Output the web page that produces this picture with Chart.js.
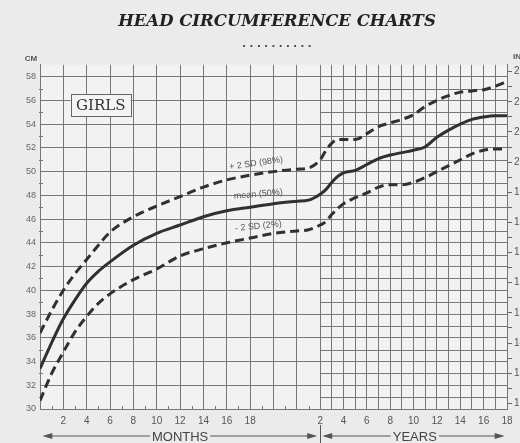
<!DOCTYPE html>
<html>
<head>
<meta charset="utf-8">
<script src="https://cdn.jsdelivr.net/npm/chart.js@4.4.0/dist/chart.umd.min.js"></script>
<style>
  html, body { margin: 0; padding: 0; overflow: hidden; background: #ebebeb; }
  #wrap { width: 540px; height: 443px; }
</style>
</head>
<body>
<div id="wrap"><canvas id="chart" width="540" height="443"></canvas></div>
<script>
// ages: months up to 23, then years 2..18 (one year takes the width of one month)
const monthAges = [0, 1, 2, 3, 4, 5, 6, 8, 10, 12, 14, 16, 18, 20, 22, 23];
const yearAges = [2, 2.5, 3, 3.5, 4, 5, 6, 7, 8, 9, 10, 11, 12, 13, 14, 15, 16, 17, 18];

// head circumference in cm
const upperMonths = [36.4, 38.3, 40.0, 41.4, 42.6, 43.8, 44.9, 46.2, 47.1, 47.9, 48.7, 49.3, 49.7, 50.0, 50.2, 50.3];
const upperYears = [51.0, 51.8, 52.4, 52.7, 52.7, 52.7, 53.2, 53.8, 54.1, 54.4, 54.8, 55.5, 56.0, 56.4, 56.7, 56.8, 56.9, 57.2, 57.6];
const meanMonths = [33.4, 35.6, 37.6, 39.2, 40.6, 41.6, 42.4, 43.8, 44.8, 45.5, 46.2, 46.7, 47.0, 47.3, 47.5, 47.6];
const meanYears = [48.1, 48.5, 49.1, 49.6, 49.9, 50.1, 50.6, 51.1, 51.4, 51.6, 51.8, 52.1, 52.9, 53.5, 54.0, 54.4, 54.6, 54.7, 54.7];
const lowerMonths = [30.7, 33.0, 34.8, 36.5, 37.8, 38.9, 39.7, 40.9, 41.8, 42.9, 43.5, 44.0, 44.4, 44.8, 45.0, 45.1];
const lowerYears = [45.5, 45.8, 46.4, 46.9, 47.3, 47.8, 48.2, 48.7, 48.9, 48.9, 49.1, 49.5, 50.0, 50.5, 51.0, 51.5, 51.8, 51.9, 51.9];

const seriesLabels = ['+ 2 SD (98%)', 'mean (50%)', '- 2 SD (2%)'];
const monthTickLabels = [2, 4, 6, 8, 10, 12, 14, 16, 18];
const yearTickLabels = [2, 4, 6, 8, 10, 12, 14, 16, 18];

const CM_MIN = 30, CM_MAX = 59;
const gridColor = '#777777';
const lineColor = '#303030';
const none = 'rgba(0,0,0,0)';

// axis unit: months 0..24, then 24 + (years - 2)
const yearUnit = yr => 22 + yr;
const toPoints = (mVals, yVals) =>
  monthAges.map((m, i) => ({ x: m, y: mVals[i] }))
    .concat(yearAges.map((yr, i) => ({ x: yearUnit(yr), y: yVals[i] })));

function range(a, b, step) {
  const out = [];
  for (let v = a; v <= b + 1e-9; v += step) out.push({ value: Math.round(v * 100) / 100 });
  return out;
}

const decor = {
  id: 'decor',
  beforeDraw(chart) {
    const { ctx, chartArea: a } = chart;
    ctx.save();
    ctx.fillStyle = '#f2f2f2';
    ctx.fillRect(a.left, a.top, a.right - a.left, a.bottom - a.top);
    ctx.restore();
  },
  beforeDatasetsDraw(chart) {
    const { ctx, chartArea: a, scales: { x, y } } = chart;
    const x0 = x.getPixelForValue(24);
    ctx.save();
    ctx.strokeStyle = gridColor;
    ctx.lineWidth = 1;
    ctx.beginPath();
    // finer 1 cm grid in the years part, short marks on the left edge
    for (let cm = CM_MIN + 1; cm < CM_MAX; cm += 2) {
      const py = Math.round(y.getPixelForValue(cm)) + 0.5;
      ctx.moveTo(x0, py);
      ctx.lineTo(a.right, py);
      ctx.moveTo(a.left - 1, py);
      ctx.lineTo(a.left + 3, py);
    }
    // short marks at odd months along the bottom
    for (let m = 1; m < 24; m += 2) {
      const px = Math.round(x.getPixelForValue(m)) + 0.5;
      ctx.moveTo(px, a.bottom);
      ctx.lineTo(px, a.bottom - 3);
    }
    ctx.stroke();
    ctx.restore();
  },
  afterDraw(chart) {
    const { ctx, chartArea: a, scales: { x, y } } = chart;
    ctx.save();

    // unit labels
    ctx.fillStyle = '#555';
    ctx.font = 'bold 8px "Liberation Sans"';
    ctx.textAlign = 'center';
    ctx.textBaseline = 'middle';
    ctx.fillText('CM', 31, a.top - 6);
    ctx.textAlign = 'left';
    ctx.fillText('IN', a.right + 6, a.top - 8);

    // GIRLS box
    const gx = x.getPixelForValue(5.2), gy = y.getPixelForValue(55.6);
    ctx.fillStyle = '#f4f4f4';
    ctx.fillRect(gx - 30, gy - 11, 60, 22);
    ctx.strokeStyle = '#666';
    ctx.lineWidth = 1;
    ctx.strokeRect(Math.round(gx - 30) + 0.5, Math.round(gy - 11) + 0.5, 60, 22);
    ctx.fillStyle = '#333';
    ctx.font = '15px "DejaVu Serif"';
    ctx.textAlign = 'center';
    ctx.fillText('GIRLS', gx, gy + 1);

    // curve labels
    const tags = [[18.5, 50.7, -8], [18.7, 48.1, -5], [18.7, 45.4, -6]];
    ctx.font = '9px "Liberation Sans"';
    ctx.fillStyle = '#555';
    tags.forEach((t, i) => {
      ctx.save();
      ctx.translate(x.getPixelForValue(t[0]), y.getPixelForValue(t[1]));
      ctx.rotate(t[2] * Math.PI / 180);
      ctx.fillText(seriesLabels[i], 0, 0);
      ctx.restore();
    });

    // MONTHS / YEARS arrows
    const ay = 436;
    const arrow = (x1, x2, text, tx) => {
      ctx.font = '13px "Liberation Sans"';
      const w = ctx.measureText(text).width;
      ctx.strokeStyle = '#555';
      ctx.fillStyle = '#555';
      ctx.lineWidth = 1;
      ctx.beginPath();
      ctx.moveTo(x1 + 6, ay); ctx.lineTo(tx - w / 2 - 2, ay);
      ctx.moveTo(tx + w / 2 + 2, ay); ctx.lineTo(x2 - 6, ay);
      ctx.stroke();
      ctx.beginPath();
      ctx.moveTo(x1, ay); ctx.lineTo(x1 + 10, ay - 3); ctx.lineTo(x1 + 10, ay + 3); ctx.closePath();
      ctx.moveTo(x2, ay); ctx.lineTo(x2 - 10, ay - 3); ctx.lineTo(x2 - 10, ay + 3); ctx.closePath();
      ctx.fill();
      ctx.fillStyle = '#444';
      ctx.textAlign = 'center';
      ctx.fillText(text, tx, ay + 1);
    };
    const xs = x.getPixelForValue(24);
    arrow(x.getPixelForValue(0.2), xs - 3, 'MONTHS', x.getPixelForValue(12));
    arrow(xs + 2, x.getPixelForValue(39.8), 'YEARS', x.getPixelForValue(32.1));
    ctx.strokeStyle = '#555';
    ctx.beginPath();
    ctx.moveTo(Math.round(xs) + 0.5, 425);
    ctx.lineTo(Math.round(xs) + 0.5, 443);
    ctx.stroke();

    ctx.restore();
  }
};

const dashed = [9, 5];

new Chart(document.getElementById('chart'), {
  type: 'line',
  data: {
    datasets: [
      { label: seriesLabels[0], data: toPoints(upperMonths, upperYears), borderDash: dashed },
      { label: seriesLabels[1], data: toPoints(meanMonths, meanYears) },
      { label: seriesLabels[2], data: toPoints(lowerMonths, lowerYears), borderDash: dashed },
    ],
  },
  options: {
    responsive: false,
    animation: false,
    layout: { padding: { left: 14, right: 0, top: 0, bottom: 0 } },
    elements: {
      point: { radius: 0 },
      line: { borderColor: lineColor, borderWidth: 3, cubicInterpolationMode: 'monotone', fill: false },
    },
    plugins: {
      legend: { display: false },
      tooltip: { enabled: false },
      title: {
        display: true,
        text: 'HEAD CIRCUMFERENCE CHARTS',
        color: '#222',
        font: { family: '"DejaVu Serif"', size: 16.5, weight: 'bold', style: 'italic' },
        padding: { top: 12, bottom: 7 },
      },
      subtitle: {
        display: true,
        text: '. . . . . . . . . .',
        color: '#444',
        font: { family: '"DejaVu Sans"', size: 10, weight: 'bold' },
        padding: { top: 0, bottom: 14 },
      },
    },
    scales: {
      x: {
        type: 'linear',
        min: 0,
        max: 40,
        afterBuildTicks: s => { s.ticks = range(0, 40, 1); },
        afterFit: s => { s.height = 34; },
        border: { display: true, color: gridColor },
        grid: {
          color: c => (c.tick.value >= 24 || c.tick.value % 2 === 0) ? gridColor : none,
          drawTicks: false,
        },
        ticks: {
          autoSkip: false,
          maxRotation: 0,
          padding: 6,
          color: '#555',
          font: { family: '"Liberation Sans"', size: 10 },
          callback: v => {
            if (v < 24 && monthTickLabels.includes(v)) return String(v);
            if (v >= 24 && yearTickLabels.includes(v - 22)) return String(v - 22);
            return '';
          },
        },
      },
      y: {
        min: CM_MIN,
        max: CM_MAX,
        afterBuildTicks: s => { s.ticks = range(CM_MIN, CM_MAX, 1); },
        afterFit: s => { s.width = 26; },
        border: { display: true, color: gridColor },
        grid: {
          color: c => (c.tick.value % 2 === 0 || c.tick.value === CM_MAX) ? gridColor : none,
          drawTicks: false,
        },
        ticks: {
          padding: 4,
          color: '#666',
          font: { family: '"Liberation Sans"', size: 9 },
          callback: v => v % 2 === 0 ? String(v) : '',
        },
      },
      y2: {
        position: 'right',
        min: CM_MIN / 2.54,
        max: CM_MAX / 2.54,
        afterBuildTicks: s => { s.ticks = range(12, 23, 0.5); },
        afterFit: s => { s.width = 33; },
        border: { display: true, color: gridColor },
        grid: { drawOnChartArea: false, drawTicks: true, tickLength: 5, color: '#666' },
        ticks: {
          padding: 2,
          color: '#555',
          font: { family: '"Liberation Sans"', size: 10 },
          callback: v => Number.isInteger(v) ? String(v) : '',
        },
      },
    },
  },
  plugins: [decor],
});
</script>
</body>
</html>
